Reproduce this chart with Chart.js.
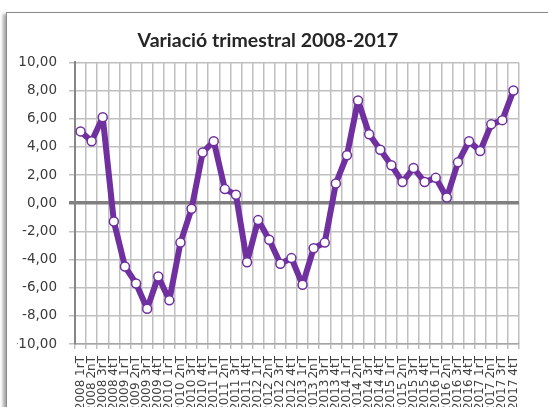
<!DOCTYPE html>
<html><head><meta charset="utf-8">
<script src="https://cdn.jsdelivr.net/npm/chart.js@4"></script>
<style>
html,body{margin:0;padding:0;background:#fff;overflow:hidden;width:548px;height:407px;}
#frame{position:absolute;left:6px;top:12px;width:560px;height:440px;border:1px solid #8a8a8a;box-shadow:-3px 2px 3px rgba(0,0,0,0.35);background:#fff;}
#wrap{position:absolute;left:0;top:0;width:548px;height:470px;}
</style></head><body>
<div id="frame"></div>
<div id="wrap"><canvas id="c" width="548" height="470"></canvas></div>
<script>
const categories = [
 "2008 1rT","2008 2nT","2008 3rT","2008 4tT",
 "2009 1rT","2009 2nT","2009 3rT","2009 4tT",
 "2010 1rT","2010 2nT","2010 3rT","2010 4tT",
 "2011 1rT","2011 2nT","2011 3rT","2011 4tT",
 "2012 1rT","2012 2nT","2012 3rT","2012 4tT",
 "2013 1rT","2013 2nT","2013 3rT","2013 4tT",
 "2014 1rT","2014 2nT","2014 3rT","2014 4tT",
 "2015 1rT","2015 2nT","2015 3rT","2015 4tT",
 "2016 1rT","2016 2nT","2016 3rT","2016 4tT",
 "2017 1rT","2017 2nT","2017 3rT","2017 4tT"];
const variacio = [5.1, 4.4, 6.1, -1.3, -4.5, -5.7, -7.5, -5.2, -6.9, -2.8, -0.4, 3.6,
 4.4, 1.0, 0.6, -4.2, -1.2, -2.6, -4.3, -3.9, -5.8, -3.2, -2.8, 1.4,
 3.4, 7.3, 4.9, 3.8, 2.7, 1.5, 2.5, 1.5, 1.8, 0.4, 2.9, 4.4, 3.7, 5.6, 5.9, 8.0];
const yMin = -10, yMax = 10, yStep = 2;
const titleText = "Variació trimestral 2008-2017";

new Chart(document.getElementById('c'), {
  type: 'line',
  data: {
    labels: categories,
    datasets: [{
      data: variacio,
      borderColor: '#7030A0',
      borderWidth: 6,
      borderJoinStyle: 'round',
      tension: 0,
      pointRadius: 4.5,
      pointBorderWidth: 1.5,
      pointBackgroundColor: '#ffffff',
      pointBorderColor: '#7030A0'
    }]
  },
  options: {
    responsive: false,
    animation: false,
    devicePixelRatio: 1,
    layout: { padding: { left: 17, right: 29, top: 0, bottom: 0 } },
    plugins: {
      legend: { display: false },
      tooltip: { enabled: false },
      title: {
        display: true,
        text: titleText,
        color: '#262626',
        font: { family: 'Lato', size: 19.5, weight: 'bold' },
        padding: { top: 29, bottom: 10 }
      }
    },
    scales: {
      x: {
        offset: true,
        grid: { offset: true, color: '#bfbfbf', lineWidth: 1.5, tickLength: 5, drawTicks: true },
        border: { color: '#a6a6a6', width: 1.5 },
        ticks: {
          autoSkip: false, minRotation: 90, maxRotation: 90, padding: 7,
          color: '#404040', font: { family: 'DejaVu Sans', size: 12 }
        },
        afterFit: s => { s.height = 126; }
      },
      y: {
        min: yMin, max: yMax,
        grid: {
          color: c => (c.tick && c.tick.value === 0) ? '#808080' : '#bfbfbf',
          lineWidth: c => (c.tick && c.tick.value === 0) ? 3.5 : 1.5,
          tickLength: 6
        },
        border: { color: '#868686', width: 2 },
        ticks: {
          stepSize: yStep, padding: 12, color: '#3a3a3a',
          font: { family: 'DejaVu Sans', size: 13.5 },
          callback: v => v.toFixed(2).replace('.', ',')
        },
        afterFit: s => { s.width = 58; }
      }
    }
  }
});
</script>
</body></html>
